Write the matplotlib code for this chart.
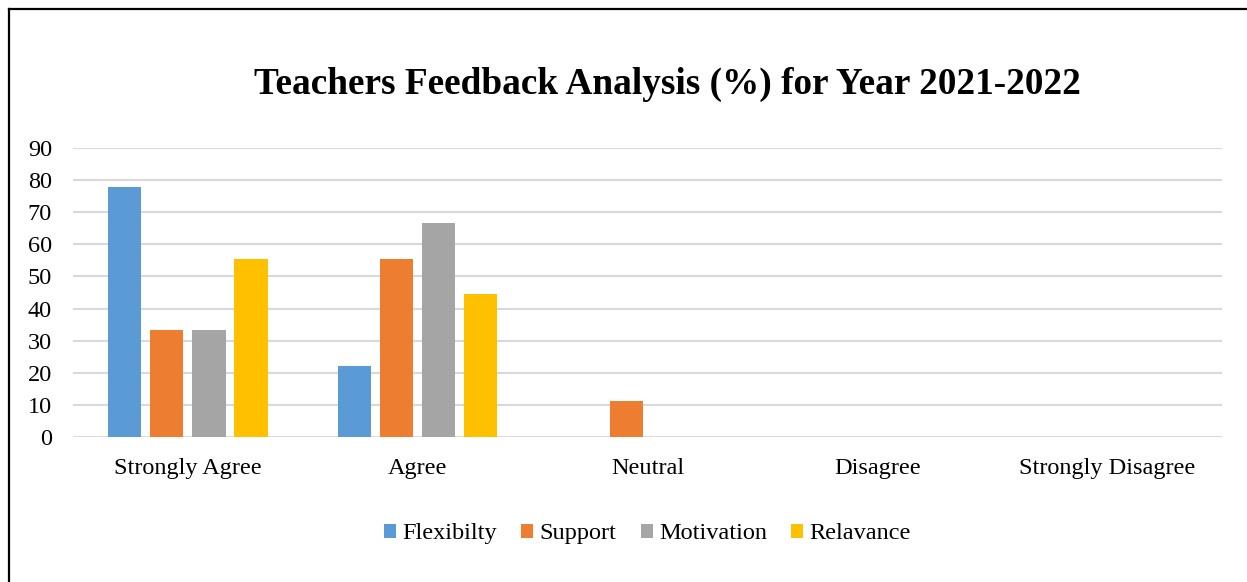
import matplotlib.pyplot as plt
import numpy as np
from matplotlib.lines import Line2D

plt.rcParams['font.family'] = ['Liberation Serif', 'DejaVu Serif']

categories = ['Strongly Agree', 'Agree', 'Neutral', 'Disagree', 'Strongly Disagree']
series = ['Flexibilty', 'Support', 'Motivation', 'Relavance']
flexibility = [77.78, 22.22, 0, 0, 0]
support = [33.33, 55.56, 11.11, 0, 0]
motivation = [33.33, 66.67, 0, 0, 0]
relavance = [55.56, 44.44, 0, 0, 0]
colors = ['#5B9BD5', '#ED7D31', '#A5A5A5', '#FFC000']

fig = plt.figure(figsize=(12.47, 5.82), dpi=100)
ax = fig.add_axes([0.0585, 0.2491, 0.9215, 0.4966])

x = np.arange(len(categories))
pitch = 0.183
width = 0.145
for i, (vals, c) in enumerate(zip([flexibility, support, motivation, relavance], colors)):
    ax.bar(x + (i - 1.5) * pitch, vals, width, color=c, label=series[i], zorder=3)

ax.set_xlim(-0.5, 4.5)
ax.set_ylim(0, 90)
ax.set_yticks(range(0, 91, 10))
ax.set_xticks(x)
ax.set_xticklabels(categories)
ax.tick_params(length=0, labelsize=17.5, colors='black')
ax.tick_params(axis='x', pad=15)
ax.tick_params(axis='y', pad=15)
ax.grid(axis='y', color='#D9D9D9', linewidth=1.5, zorder=0)
for s in ax.spines.values():
    s.set_visible(False)

fig.text(0.535, 0.855, 'Teachers Feedback Analysis (%) for Year 2021-2022',
         ha='center', va='center', fontsize=26.8, fontweight='bold')

ax.legend(loc='center', bbox_to_anchor=(0.5, -0.335), ncol=4, frameon=False,
          fontsize=17.5, handlelength=0.5, handleheight=0.5, handletextpad=0.25,
          columnspacing=1.0)

# outer border (right and bottom edges are cut off in the original)
fig.add_artist(Line2D([8.5 / 1247, 8.5 / 1247], [0, 1 - 8.5 / 582], color='black', lw=1.6,
                      transform=fig.transFigure))
fig.add_artist(Line2D([8.5 / 1247, 1], [1 - 8.5 / 582, 1 - 8.5 / 582], color='black', lw=1.6,
                      transform=fig.transFigure))

fig.savefig('out.png', dpi=100)
